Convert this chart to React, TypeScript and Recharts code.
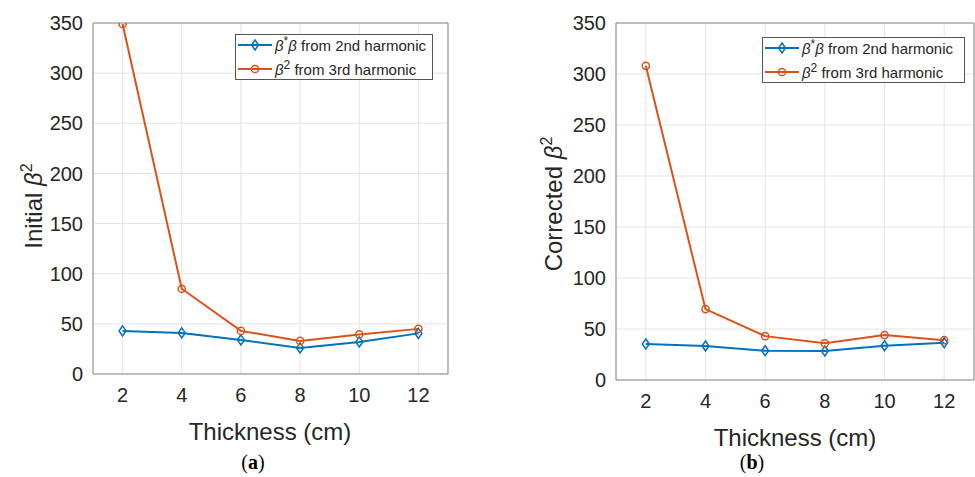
import type { CSSProperties } from 'react';
import { LineChart, Line, XAxis, YAxis, CartesianGrid, ReferenceArea } from 'recharts';

const thickness = [2, 4, 6, 8, 10, 12];
const initialSecond = [43, 41, 34, 26, 32, 40.5];
const initialThird = [349, 85, 43, 33, 39.5, 45];
const correctedSecond = [35.3, 33.3, 28.7, 28.4, 33.6, 36.5];
const correctedThird = [308, 69.5, 43, 36, 44, 39];

const xTicks = [2, 4, 6, 8, 10, 12];
const yTicks = [0, 50, 100, 150, 200, 250, 300, 350];

const BLUE = '#0072BD';
const ORANGE = '#D95319';
const TEXT = '#262626';
const FONT = '"Liberation Sans", Arial, Helvetica, sans-serif';

const page: CSSProperties = {
  position: 'fixed',
  left: 0,
  top: 0,
  width: 975,
  height: 477,
  background: '#fff',
  overflow: 'hidden',
  fontFamily: FONT,
};

function Diamond(props: any) {
  const { cx, cy, index } = props;
  if (cx == null || cy == null) return null;
  return (
    <path
      key={`d-${index}`}
      d={`M${cx},${cy - 5}L${cx + 3.5},${cy}L${cx},${cy + 5}L${cx - 3.5},${cy}Z`}
      fill="none"
      stroke={BLUE}
      strokeWidth={1.5}
    />
  );
}

function Ring(props: any) {
  const { cx, cy, index } = props;
  if (cx == null || cy == null) return null;
  return <circle key={`r-${index}`} cx={cx} cy={cy} r={3.6} fill="none" stroke={ORANGE} strokeWidth={1.5} />;
}

interface PanelProps {
  left: number;
  width: number;
  margin: { top: number; right: number; bottom: number; left: number };
  second: number[];
  third: number[];
}

function Panel({ left, width, margin, second, third }: PanelProps) {
  const rows = thickness.map((t, i) => ({ t, second: second[i], third: third[i] }));
  const tick = { fontSize: 20, fill: TEXT, fontFamily: FONT };
  return (
    <div style={{ position: 'absolute', left, top: 0 }}>
      <LineChart width={width} height={477} data={rows} margin={margin}>
        <CartesianGrid stroke="#e4e4e4" strokeWidth={1} />
        <XAxis
          type="number"
          dataKey="t"
          domain={[1, 13]}
          ticks={xTicks}
          height={40}
          axisLine={false}
          tickLine={false}
          tickSize={0}
          tickMargin={14}
          tick={tick}
          allowDataOverflow
        />
        <YAxis
          type="number"
          domain={[0, 350]}
          ticks={yTicks}
          width={60}
          axisLine={false}
          tickLine={false}
          tickSize={0}
          tickMargin={10}
          tick={tick}
          allowDataOverflow
        />
        <ReferenceArea x1={1} x2={13} y1={0} y2={350} fill="none" fillOpacity={0} stroke="#8a8a8a" strokeWidth={1} />
        <Line
          type="linear"
          dataKey="second"
          stroke={BLUE}
          strokeWidth={2}
          dot={<Diamond />}
          activeDot={false}
          isAnimationActive={false}
        />
        <Line
          type="linear"
          dataKey="third"
          stroke={ORANGE}
          strokeWidth={2}
          dot={<Ring />}
          activeDot={false}
          isAnimationActive={false}
        />
      </LineChart>
    </div>
  );
}

function LegendBox({ left, top, width }: { left: number; top: number; width: number }) {
  const box: CSSProperties = {
    position: 'absolute',
    left,
    top,
    width,
    height: 46,
    border: '1px solid #555',
    background: '#fff',
    boxSizing: 'border-box',
    fontSize: 15,
    color: TEXT,
    fontFamily: FONT,
  };
  const row = (y: number): CSSProperties => ({
    position: 'absolute',
    left: 2,
    top: y - 9,
    height: 18,
    display: 'flex',
    alignItems: 'center',
    whiteSpace: 'nowrap',
  });
  const beta: CSSProperties = { fontStyle: 'italic' };
  const sup: CSSProperties = { fontSize: 12, position: 'relative', top: -6 };
  return (
    <div style={box}>
      <div style={row(10)}>
        <svg width={34} height={14}>
          <line x1={0} y1={7} x2={34} y2={7} stroke={BLUE} strokeWidth={2} />
          <path d="M17,2L20.5,7L17,12L13.5,7Z" fill="none" stroke={BLUE} strokeWidth={1.5} />
        </svg>
        <span style={{ marginLeft: 3 }}>
          <span style={beta}>β</span>
          <span style={sup}>*</span>
          <span style={beta}>β</span> from 2nd harmonic
        </span>
      </div>
      <div style={row(34)}>
        <svg width={34} height={14}>
          <line x1={0} y1={7} x2={34} y2={7} stroke={ORANGE} strokeWidth={2} />
          <circle cx={17} cy={7} r={3.6} fill="none" stroke={ORANGE} strokeWidth={1.5} />
        </svg>
        <span style={{ marginLeft: 3 }}>
          <span style={beta}>β</span>
          <span style={sup}>2</span> from 3rd harmonic
        </span>
      </div>
    </div>
  );
}

function Titles() {
  return (
    <svg width={975} height={477} style={{ position: 'absolute', left: 0, top: 0, pointerEvents: 'none' }}>
      <g fontFamily={FONT} fill={TEXT} fontSize={24}>
        <text transform="translate(42,206) rotate(-90)" textAnchor="middle">
          Initial <tspan fontStyle="italic">β</tspan>
          <tspan dy={-10} fontSize={16}>2</tspan>
        </text>
        <text transform="translate(562,204) rotate(-90)" textAnchor="middle">
          Corrected <tspan fontStyle="italic">β</tspan>
          <tspan dy={-10} fontSize={16}>2</tspan>
        </text>
        <text x={270} y={440} textAnchor="middle">Thickness (cm)</text>
        <text x={795} y={446} textAnchor="middle">Thickness (cm)</text>
      </g>
      <g fontFamily='"Liberation Serif", "DejaVu Serif", serif' fill="#000" fontSize={20}>
        <text x={253} y={469} textAnchor="middle">
          (<tspan fontWeight="bold">a</tspan>)
        </text>
        <text x={752} y={469} textAnchor="middle">
          (<tspan fontWeight="bold">b</tspan>)
        </text>
      </g>
    </svg>
  );
}

export default function App() {
  return (
    <div style={page}>
      <Panel
        left={0}
        width={470}
        margin={{ top: 23, right: 22, bottom: 63, left: 33 }}
        second={initialSecond}
        third={initialThird}
      />
      <Panel
        left={470}
        width={505}
        margin={{ top: 23, right: 1, bottom: 57, left: 86 }}
        second={correctedSecond}
        third={correctedThird}
      />
      <LegendBox left={235} top={34} width={198} />
      <LegendBox left={762} top={37} width={203} />
      <Titles />
    </div>
  );
}
